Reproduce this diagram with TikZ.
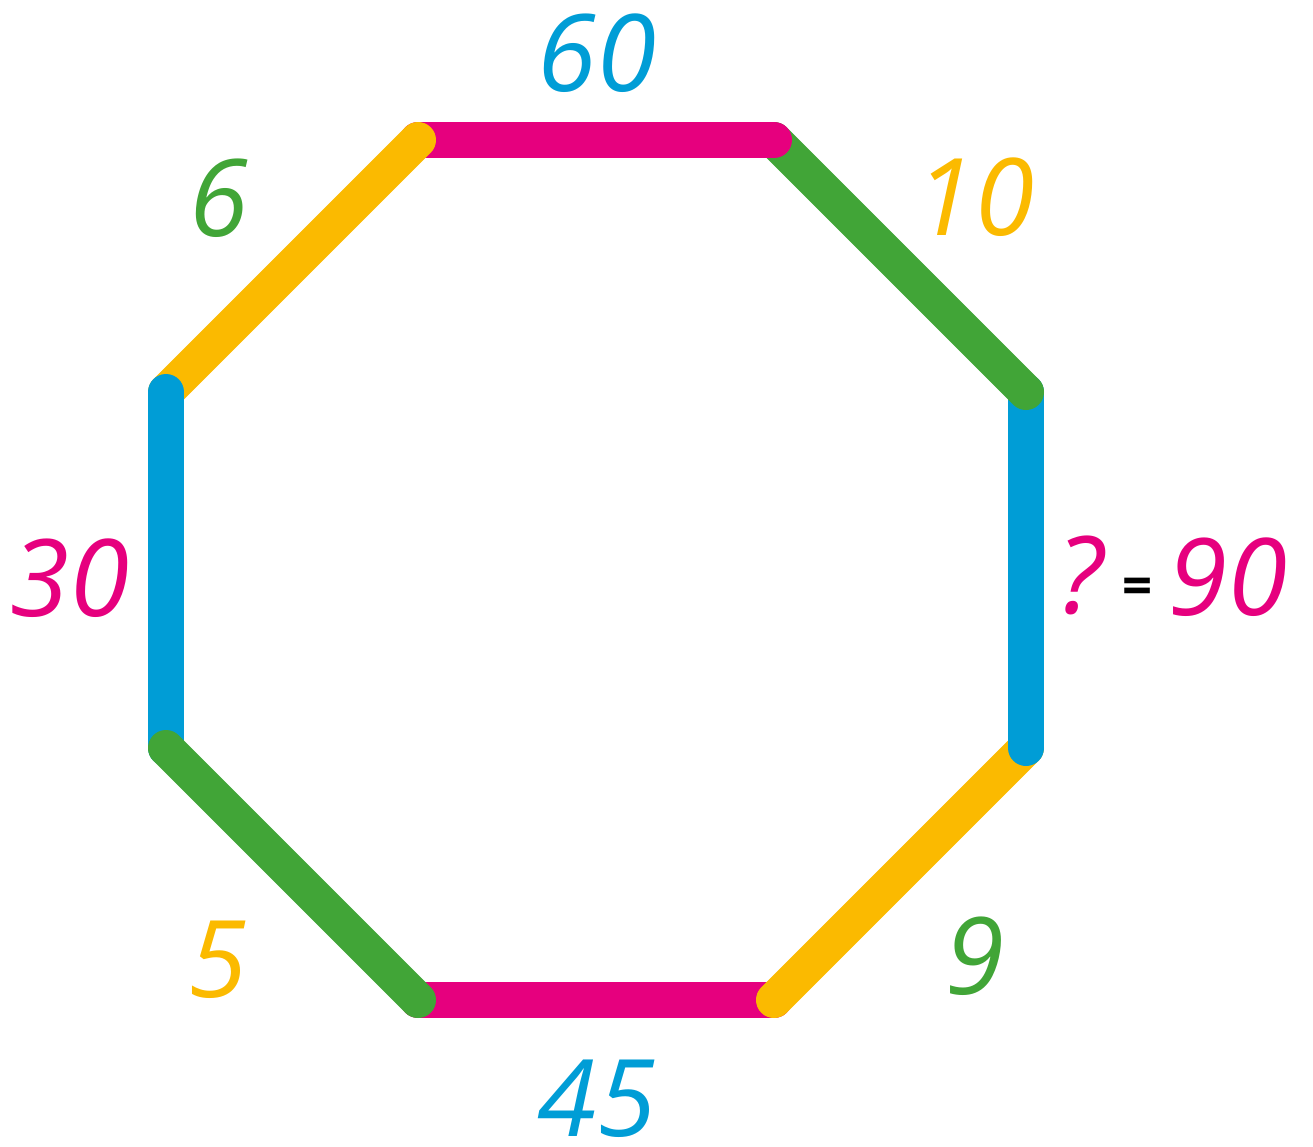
\documentclass[tikz,border=0pt]{standalone}
\usepackage{fontspec}
\newfontfamily\chuviet{Open Sans}
\definecolor{hong}{HTML}{E6007E}
\definecolor{lam}{HTML}{009DD6}
\definecolor{luc}{HTML}{41A537}
\definecolor{vang}{HTML}{FBBA00}
\begin{document}
\begin{tikzpicture}[x=0.02cm,y=-0.02cm, line join=round,line cap=round,
	canh/.style={line width=0.72cm},
	so/.style={font=\chuviet\fontsize{61}{61}\selectfont\itshape, inner sep=0pt}]
	% --- Khung hình ---
	\useasboundingbox (0,0) rectangle (1313,1147);
	
	% --- Các đỉnh của bát giác ---
	\coordinate (A) at (418,140);
	\coordinate (B) at (774,140);
	\coordinate (C) at (1026,392);
	\coordinate (D) at (1026,748);
	\coordinate (E) at (774,1000);
	\coordinate (F) at (418,1000);
	\coordinate (G) at (166,748);
	\coordinate (H) at (166,392);
	
	% --- Các cạnh (thứ tự vẽ quyết định cạnh nào nằm trên) ---
	\draw[canh,hong] (F)--(E);
	\draw[canh,vang] (E)--(D);
	\draw[canh,lam] (D)--(C);
	\draw[canh,luc] (C)--(B);
	\draw[canh,hong] (B)--(A);
	\draw[canh,vang] (A)--(H);
	\draw[canh,lam] (H)--(G);
	\draw[canh,luc] (G)--(F);
	
	% --- Các số ---
	\node[so,lam] (n60) at (597,53) {60};
	\node[so,vang] (n10) at (975,197) {10};
	\node[so,hong] (hoi) at (1080,575) {?};
	\node[font=\chuviet\fontsize{30}{30}\selectfont\bfseries] (bang) at (1138,591) {=};
	\node[so,hong] (n90) at (1228,577) {90};
	\node[so,luc] (n9) at (975,956) {9};
	\node[so,lam] (n45) at (597,1099) {45};
	\node[so,vang] (n5) at (218,960) {5};
	\node[so,hong] (n30) at (70,578) {30};
	\node[so,luc] (n6) at (219,198) {6};
\end{tikzpicture}
\end{document}
